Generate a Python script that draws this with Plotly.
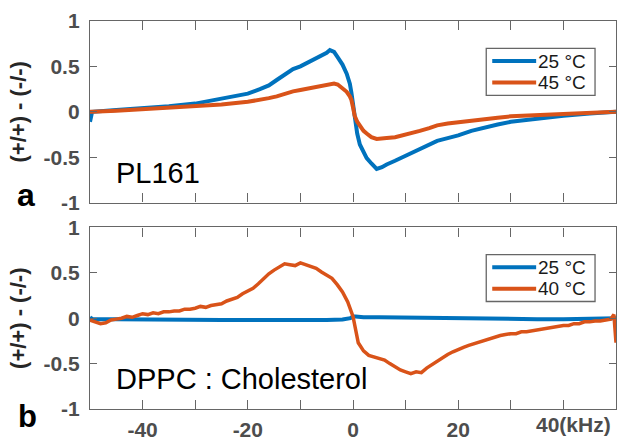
import plotly.graph_objects as go
from plotly.subplots import make_subplots

# ---- panel a: PL161 ----
freq_a = [-50, -49.6, -45, -40, -35, -30, -25, -20, -17.7, -16, -14.5, -13, -11.4, -10,
          -8.2, -7, -6, -5, -4.4, -3.6, -2.9, -2, -1.2, -0.6, -0.3, 0, 0.3, 0.8, 1.3, 2,
          2.6, 3.5, 4.5, 5.5, 6.4, 8, 9.5, 11, 12.7, 14.5, 16, 18, 20, 22.5, 25, 27.5,
          30, 35, 40, 45, 50]
pl161_25C = [-0.11, 0.0, 0.02, 0.035, 0.06, 0.09, 0.14, 0.20, 0.25, 0.29, 0.35, 0.41,
             0.47, 0.50, 0.55, 0.59, 0.62, 0.65, 0.68, 0.66, 0.60, 0.52, 0.42, 0.31,
             0.21, 0.08, -0.08, -0.24, -0.36, -0.45, -0.51, -0.57, -0.63, -0.61, -0.58,
             -0.54, -0.50, -0.46, -0.42, -0.36, -0.32, -0.29, -0.26, -0.21, -0.17, -0.14,
             -0.11, -0.075, -0.045, -0.02, 0.0]
pl161_45C = [0.0, 0.0, 0.012, 0.027, 0.04, 0.055, 0.08, 0.11, 0.13, 0.15, 0.17, 0.20,
             0.225, 0.24, 0.26, 0.27, 0.285, 0.30, 0.31, 0.31, 0.30, 0.26, 0.22, 0.17,
             0.13, 0.05, -0.04, -0.11, -0.16, -0.21, -0.24, -0.28, -0.30, -0.29, -0.29,
             -0.28, -0.26, -0.24, -0.21, -0.18, -0.15, -0.13, -0.115, -0.095, -0.08,
             -0.065, -0.05, -0.038, -0.027, -0.013, 0.0]

# ---- panel b: DPPC : Cholesterol ----
freq_b25 = [-50, -49.5, -45, -40, -35, -30, -25, -20, -15, -10, -5, -2, -0.5, 0, 0.5,
            2, 5, 10, 15, 20, 25, 30, 35, 40, 45, 50]
dppc_25C = [0.01, -0.01, -0.01, -0.015, -0.02, -0.02, -0.02, -0.02, -0.025, -0.02,
            -0.02, -0.015, 0.0, 0.02, 0.02, 0.01, 0.01, 0.005, 0.0, -0.005, -0.005,
            -0.005, -0.01, -0.01, -0.005, 0.0]

freq_b40 = list(range(-50, 50)) + [49.6, 50]
dppc_40C = [-0.02, -0.04, -0.06, -0.05, -0.02, -0.01, 0.00, 0.02, 0.01, 0.03,
            0.05, 0.04, 0.06, 0.05, 0.07, 0.07, 0.08, 0.08, 0.10, 0.10,
            0.11, 0.13, 0.12, 0.14, 0.15, 0.16, 0.19, 0.21, 0.23, 0.27,
            0.30, 0.33, 0.38, 0.44, 0.49, 0.53, 0.57, 0.60, 0.59, 0.58,
            0.61, 0.59, 0.57, 0.55, 0.51, 0.48, 0.44, 0.37, 0.29, 0.18,
            0.02, -0.27, -0.36, -0.41, -0.43, -0.44, -0.46, -0.50, -0.54, -0.57,
            -0.59, -0.61, -0.59, -0.60, -0.55, -0.51, -0.47, -0.43, -0.40, -0.37,
            -0.34, -0.32, -0.30, -0.28, -0.27, -0.25, -0.23, -0.21, -0.19, -0.18,
            -0.17, -0.17, -0.15, -0.15, -0.14, -0.13, -0.12, -0.11, -0.10, -0.09,
            -0.08, -0.08, -0.06, -0.06, -0.04, -0.04, -0.03, -0.03, -0.02, -0.01,
            0.04, -0.27]

y_ticks = [-1, -0.5, 0, 0.5, 1]
y_tick_labels = ["-1", "-0.5", "0", "0.5", "1"]
x_ticks = [-50, -40, -30, -20, -10, 0, 10, 20, 30, 40, 50]
x_tick_labels = ["", "-40", "", "-20", "", "0", "", "20", "", "", ""]

BLUE = "#0072BD"
ORANGE = "#D95319"
FRAME = "#666666"
TICKTXT = "#4d4d4d"
FONT = "Liberation Sans, Arial, sans-serif"

W, H = 622, 446
ML, MR, MT, MB = 90, 5, 21, 28


def px_x(p):
    return (p - ML) / (W - ML - MR)


def px_y(p):
    return (H - MB - p) / (H - MT - MB)


fig = make_subplots(rows=2, cols=1, vertical_spacing=0.0642)

fig.add_trace(go.Scatter(x=freq_a, y=pl161_25C, mode="lines", name="25 °C",
                         line=dict(color=BLUE, width=4)), row=1, col=1)
fig.add_trace(go.Scatter(x=freq_a, y=pl161_45C, mode="lines", name="45 °C",
                         line=dict(color=ORANGE, width=4)), row=1, col=1)
fig.add_trace(go.Scatter(x=freq_b25, y=dppc_25C, mode="lines", name="25 °C",
                         line=dict(color=BLUE, width=4)), row=2, col=1)
fig.add_trace(go.Scatter(x=freq_b40, y=dppc_40C, mode="lines", name="40 °C",
                         line=dict(color=ORANGE, width=3.5)), row=2, col=1)

axis_common = dict(showline=True, linecolor=FRAME, linewidth=1.3, mirror="allticks",
                   ticks="inside", tickcolor=FRAME, tickwidth=1.3, showgrid=False,
                   zeroline=False)

for r in (1, 2):
    fig.update_xaxes(range=[-50, 50], tickvals=x_ticks, ticklen=9,
                     ticktext=x_tick_labels if r == 2 else [""] * len(x_ticks),
                     tickfont=dict(family=FONT, size=21, color=TICKTXT, weight="bold"),
                     ticklabelstandoff=2,
                     row=r, col=1, **axis_common)
    fig.update_yaxes(range=[-1, 1], tickvals=y_ticks, ticktext=y_tick_labels, ticklen=7,
                     tickfont=dict(family=FONT, size=21, color=TICKTXT, weight="bold"),
                     ticklabelstandoff=5,
                     title=dict(text="(+/+) - (-/-)", standoff=10,
                                font=dict(family=FONT, size=22, color="#262626",
                                          weight="bold")),
                     row=r, col=1, **axis_common)

shapes = []
annotations = []


def add_legend_box(x0, x1, y0, y1, rows):
    shapes.append(dict(type="rect", xref="paper", yref="paper",
                       x0=px_x(x0), x1=px_x(x1), y0=px_y(y0), y1=px_y(y1),
                       line=dict(color=FRAME, width=1.3), fillcolor="white", layer="above"))
    for label, color, yy in rows:
        shapes.append(dict(type="line", xref="paper", yref="paper",
                           x0=px_x(x0 + 6), x1=px_x(x0 + 50), y0=px_y(yy), y1=px_y(yy),
                           line=dict(color=color, width=4), layer="above"))
        annotations.append(dict(text=label, xref="paper", yref="paper",
                                x=px_x(x0 + 50), y=px_y(yy), xanchor="left",
                                yanchor="middle", showarrow=False,
                                font=dict(family=FONT, size=19, color="#1a1a1a")))


add_legend_box(487, 596, 49, 97, [("25 °C", BLUE, 62), ("45 °C", ORANGE, 84)])
add_legend_box(487, 596, 260, 308, [("25 °C", BLUE, 273), ("40 °C", ORANGE, 295)])


def add_text(text, x, y, size, bold=False, anchor="left", yanchor="middle"):
    f = dict(family=FONT, size=size, color="black")
    if bold:
        f["weight"] = "bold"
    annotations.append(dict(text=text, xref="paper", yref="paper", x=px_x(x), y=px_y(y),
                            xanchor=anchor, yanchor=yanchor, showarrow=False, font=f))


add_text("PL161", 114, 177, 29)
add_text("DPPC : Cholesterol", 114, 387, 29)
add_text("a", 26, 199, 32, bold=True, anchor="center")
add_text("b", 27, 446, 31, bold=True, anchor="center", yanchor="bottom")
annotations.append(dict(text="40(kHz)", xref="paper", yref="paper", x=px_x(535),
                        y=px_y(434), xanchor="left", yanchor="middle", showarrow=False,
                        font=dict(family=FONT, size=21, color=TICKTXT, weight="bold")))

fig.update_layout(width=W, height=H, margin=dict(l=ML, r=MR, t=MT, b=MB),
                  paper_bgcolor="white", plot_bgcolor="white", showlegend=False,
                  shapes=shapes, annotations=annotations)

fig.write_html("out.html")
